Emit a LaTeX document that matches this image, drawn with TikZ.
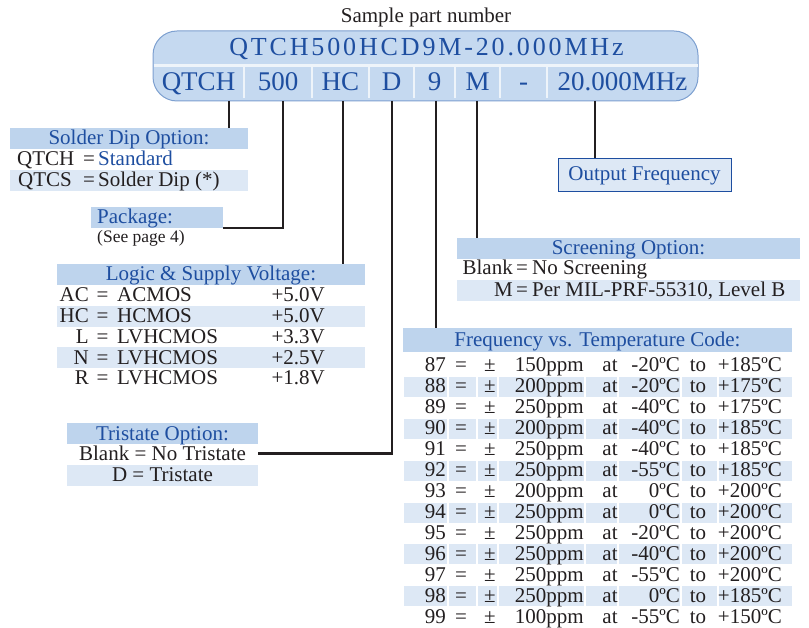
\documentclass[tikz,border=0pt]{standalone}
\usepackage{fontspec}
\setmainfont{Liberation Serif}
\newfontfamily\pnfont[LetterSpace=11]{Liberation Serif}
\definecolor{pnfill}{RGB}{197,217,240}
\definecolor{pnedge}{RGB}{125,160,208}
\definecolor{hdrfill}{RGB}{190,212,237}
\definecolor{rowfill}{RGB}{221,232,245}
\definecolor{inkblue}{RGB}{30,78,160}
\definecolor{inkdark}{RGB}{35,31,32}

\begin{document}
\begin{tikzpicture}[x=1pt, y=-1pt,
    txt/.style={inner sep=0pt, text=inkdark, font=\fontsize{21}{24}\selectfont},
    row/.style={txt, text height=17pt, text depth=4pt},
    hdr/.style={row, fill=hdrfill, text=inkblue},
    link/.style={draw=inkdark, line width=2.5pt}]
    \useasboundingbox (0,0) rectangle (809,628);

    % 1. 型号条
    \node[txt, anchor=base] (title) at (426,23) {Sample part number};
    \draw[fill=pnfill, draw=pnedge, line width=1pt, rounded corners=24pt] (153,31) rectangle (698,101);
    \draw[white!70!pnfill, line width=3pt] (153.5,65.5) -- (697.5,65.5);
    \foreach \x in {244,312,369,414,455,500,547}
        \draw[white!70!pnfill, line width=2.5pt] (\x,65.5) -- (\x,98);
    \node[txt, anchor=base, text=inkblue, font=\pnfont\fontsize{26}{30}\selectfont] (full) at (426.5,56) {QTCH500HCD9M-20.000MHz};
    \foreach \name/\xa/\xb/\lab in {QTCH/153/244/QTCH, 500/244/312/500, HC/312/369/HC, D/369/414/D,
                                   9/414/455/9, M/455/500/M, dash/500/547/-, MHz/547/698/20.000MHz}
        \node[txt, anchor=base, text=inkblue, font=\fontsize{27}{30}\selectfont] (f\name) at ({(\xa+\xb)/2},91) {\lab};

    % 2. 引线起点
    \coordinate (pQTCH) at (229,101);
    \coordinate (p500) at (283,101);
    \coordinate (pHC) at (343,101);
    \coordinate (pD) at (392,101);
    \coordinate (p9) at (436,101);
    \coordinate (pM) at (477,101);
    \coordinate (pMHz) at (595,101);

    % 3. Solder Dip
    \node[hdr, anchor=base, minimum width=238pt] (solder) at (129,145) {Solder Dip Option:};
    \node[txt, anchor=base west] (sdQTCH) at (17,166) {QTCH};
    \node[txt, anchor=base] (sdEqA) at (89,166) {=};
    \node[txt, anchor=base west, text=inkblue] (sdStd) at (98,166) {Standard};
    \fill[rowfill] (10,170) rectangle (248,191);
    \node[txt, anchor=base west] (sdQTCS) at (18,187) {QTCS};
    \node[txt, anchor=base] (sdEqB) at (89,187) {=};
    \node[txt, anchor=base west] (sdDip) at (98,187) {Solder Dip (*)};

    % 4. Package
    \node[hdr, anchor=base west, inner xsep=6pt, text width=120pt, align=left] (pkg) at (91,224) {Package:};
    \node[txt, anchor=base west, font=\fontsize{17.5}{20}\selectfont] (pkgnote) at (97,243) {(See page 4)};

    % 5. Logic & Supply Voltage
    \node[hdr, anchor=base, minimum width=308pt] (logic) at (211,281) {Logic \& Supply Voltage:};
    \foreach \c/\n/\v [count=\i from 0] in {AC/ACMOS/+5.0V, HC/HCMOS/+5.0V, L/LVHCMOS/+3.3V,
                                            N/LVHCMOS/+2.5V, R/LVHCMOS/+1.8V} {
        \pgfmathsetmacro\yb{302+20.7*\i}
        \ifodd\i \fill[rowfill] (57,\yb-17) rectangle (365,\yb+4); \fi
        \node[txt, anchor=base east] (lg\c) at (89,\yb) {\c};
        \node[txt, anchor=base] (lgEq\c) at (102.5,\yb) {=};
        \node[txt, anchor=base west] (lgN\c) at (117,\yb) {\n};
        \node[txt, anchor=base east] (lgV\c) at (325,\yb) {\v};
    }

    % 6. Tristate
    \node[hdr, anchor=base, minimum width=191pt] (tri) at (162.5,440) {Tristate Option:};
    \node[row, anchor=base, minimum width=191pt] (triB) at (162.5,460) {Blank = No Tristate};
    \node[row, anchor=base, minimum width=191pt, fill=rowfill] (triD) at (162.5,481.7) {D = Tristate};

    % 7. Output Frequency
    \node[txt, draw=inkblue, line width=1pt, fill=rowfill, text=inkblue, minimum width=173pt,
          minimum height=33pt] (outf) at (644.5,175.5) {Output Frequency};

    % 8. Screening
    \node[hdr, anchor=base, minimum width=343pt] (screen) at (628.5,255) {Screening Option:};
    \node[txt, anchor=base east] (scBlank) at (513,275) {Blank};
    \node[txt, anchor=base] (scEqA) at (522,275) {=};
    \node[txt, anchor=base west] (scNo) at (532,275) {No Screening};
    \fill[rowfill] (457,280) rectangle (800,301);
    \node[txt, anchor=base east] (scM) at (513,297) {M};
    \node[txt, anchor=base] (scEqB) at (522,297) {=};
    \node[txt, anchor=base west] (scMil) at (532,297) {Per MIL-PRF-55310, Level B};

    % 9. Frequency vs. Temperature
    \node[hdr, anchor=base, minimum width=389pt, minimum height=24pt] (freq) at (597.5,347) {Frequency vs. Temperature Code:};
    \foreach \c/\p/\lo/\hi [count=\i from 0] in {87/150/-20/185, 88/200/-20/175, 89/250/-40/175,
            90/200/-40/185, 91/250/-40/185, 92/250/-55/185, 93/200/0/200, 94/250/0/200,
            95/250/-20/200, 96/250/-40/200, 97/250/-55/200, 98/250/0/185, 99/100/-55/150} {
        \pgfmathsetmacro\yb{372+20.94*\i}
        \ifodd\i
            \foreach \xa/\xb in {404/447,449/476,478/497,499/584,586/617,619/680,682/717,719/792}
                \fill[rowfill] (\xa,\yb-16) rectangle (\xb,\yb+4);
        \fi
        \node[txt, anchor=base east] (code\c) at (446,\yb) {\c};
        \node[txt, anchor=base] (eq\c) at (461,\yb) {=};
        \node[txt, anchor=base] (pm\c) at (490,\yb) {±};
        \node[txt, anchor=base east] (ppm\c) at (584,\yb) {\p ppm};
        \node[txt, anchor=base] (at\c) at (610,\yb) {at};
        \node[txt, anchor=base east] (lo\c) at (680,\yb) {\lo ºC};
        \node[txt, anchor=base] (to\c) at (698,\yb) {to};
        \node[txt, anchor=base east] (hi\c) at (782,\yb) {+\hi ºC};
    }

    % 10. 引线
    \draw[link] (pQTCH) -- (pQTCH |- solder.north);
    \draw[link] (p500) |- (pkg.south east);
    \draw[link] (pHC) -- (pHC |- logic.north);
    \draw[link] (pD) |- (triB.east);
    \draw[link] (p9) -- (p9 |- freq.north);
    \draw[link] (pM) -- (pM |- screen.north);
    \draw[link] (pMHz) -- (pMHz |- outf.north);
\end{tikzpicture}
\end{document}
